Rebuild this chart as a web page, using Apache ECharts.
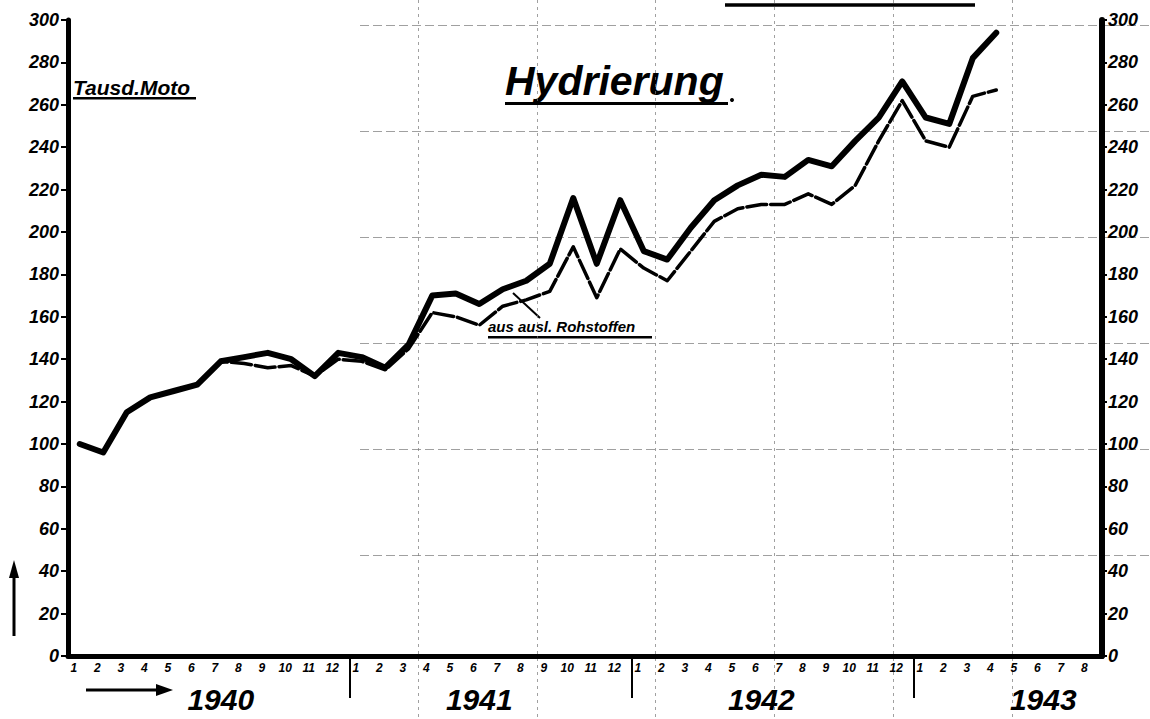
<!DOCTYPE html>
<html>
<head>
<meta charset="utf-8">
<title>Hydrierung</title>
<script src="https://cdn.jsdelivr.net/npm/echarts@6/dist/echarts.min.js"></script>
<style>
  html, body { margin: 0; padding: 0; background: #fff; }
  #chart { width: 1150px; height: 719px; }
</style>
</head>
<body>
<div id="chart"></div>
<script>
// months 1940-1 .. 1943-8
const monthLabels = [
  '1','2','3','4','5','6','7','8','9','10','11','12',
  '1','2','3','4','5','6','7','8','9','10','11','12',
  '1','2','3','4','5','6','7','8','9','10','11','12',
  '1','2','3','4','5','6','7','8'
];
// year caption sits under this month index
const yearLabelAt = { 6: '1940', 17: '1941', 29: '1942', 41: '1943' };
// month boundaries where a new year starts
const yearStarts = [12, 24, 36];
const boundaries = monthLabels.map((m, i) => i).concat([monthLabels.length]);

// Tausd. Moto, total hydrogenation
const gesamt = [
  100, 96, 115, 122, 125, 128, 139, 141, 143, 140, 132, 143,
  141, 136, 147, 170, 171, 166, 173, 177, 185, 216, 185, 215,
  191, 187, 202, 215, 222, 227, 226, 234, 231, 243, 254, 271,
  254, 251, 282, 294, null, null, null, null
];
// aus ausl. Rohstoffen
const auslRohstoffe = [
  100, 96, 115, 122, 125, 128, 139, 138, 136, 137, 132, 140,
  139, 135, 145, 162, 160, 156, 165, 168, 172, 193, 169, 192,
  183, 177, 191, 205, 211, 213, 213, 218, 213, 222, 243, 262,
  243, 240, 264, 267, null, null, null, null
];

const FONT = '"Liberation Sans", Arial, sans-serif';
const ink = '#000';

const chart = echarts.init(document.getElementById('chart'), null, { renderer: 'svg' });

const hidden = {
  axisLine: { show: false },
  axisTick: { show: false },
  axisLabel: { show: false },
  splitLine: { show: false }
};

const option = {
  backgroundColor: '#fff',
  animation: false,
  grid: [
    { left: 68, right: 48, top: 20, bottom: 63 },
    // paper grid, verticals
    { left: 418, right: 138, top: 0, bottom: 0 },
    // paper grid, horizontals
    { left: 360, right: 0, top: 25, bottom: 164 }
  ],
  xAxis: [
    {
      type: 'category',
      gridIndex: 0,
      data: monthLabels,
      boundaryGap: true,
      axisLine: { lineStyle: { color: ink, width: 5 } },
      axisTick: { show: false },
      axisLabel: {
        interval: 0,
        margin: 6,
        color: ink,
        fontFamily: FONT,
        fontWeight: 'bold',
        fontStyle: 'italic',
        fontSize: 12,
        padding: [0, 12, 0, 0]
      },
      splitLine: { show: false }
    },
    {
      type: 'category',
      gridIndex: 0,
      position: 'bottom',
      data: monthLabels,
      boundaryGap: true,
      offset: 22,
      axisLine: { show: false },
      axisTick: { show: false },
      axisLabel: {
        interval: 0,
        margin: 6,
        color: ink,
        fontFamily: FONT,
        fontWeight: 'bold',
        fontStyle: 'italic',
        fontSize: 30,
        formatter: (v, i) => yearLabelAt[i] || ''
      },
      splitLine: { show: false }
    },
    {
      // year separators under the axis
      type: 'category',
      gridIndex: 0,
      position: 'bottom',
      data: boundaries,
      boundaryGap: false,
      axisLine: { show: false },
      axisTick: {
        show: true,
        length: 42,
        interval: (idx) => yearStarts.includes(idx),
        lineStyle: { color: ink, width: 2 }
      },
      axisLabel: { show: false },
      splitLine: { show: false }
    },
    Object.assign({ type: 'value', gridIndex: 1, min: 0, max: 5, interval: 1 }, hidden, {
      splitLine: { show: true, lineStyle: { color: '#777', width: 1, type: [3, 4], opacity: 0.7 } }
    }),
    Object.assign({ type: 'value', gridIndex: 2, min: 0, max: 1 }, hidden)
  ],
  yAxis: [
    {
      type: 'value',
      gridIndex: 0,
      position: 'left',
      min: 0, max: 300, interval: 20,
      axisLine: { show: true, lineStyle: { color: ink, width: 5 } },
      axisTick: { show: true, length: 7, lineStyle: { color: ink, width: 2 } },
      axisLabel: {
        margin: 9,
        color: ink,
        fontFamily: FONT,
        fontWeight: 'bold',
        fontStyle: 'italic',
        fontSize: 18
      },
      splitLine: { show: false }
    },
    {
      type: 'value',
      gridIndex: 0,
      position: 'right',
      min: 0, max: 300, interval: 20,
      axisLine: { show: true, lineStyle: { color: ink, width: 6 } },
      axisTick: { show: true, length: 5, lineStyle: { color: ink, width: 2 } },
      axisLabel: {
        margin: 6,
        color: ink,
        fontFamily: FONT,
        fontWeight: 'bold',
        fontStyle: 'italic',
        fontSize: 18
      },
      splitLine: { show: false }
    },
    Object.assign({ type: 'value', gridIndex: 1, min: 0, max: 1 }, hidden),
    Object.assign({ type: 'value', gridIndex: 2, min: 0, max: 5, interval: 1 }, hidden, {
      splitLine: { show: true, lineStyle: { color: '#777', width: 1, type: [9, 4], opacity: 0.7 } }
    })
  ],
  series: [
    {
      name: 'aus ausl. Rohstoffen',
      type: 'line',
      xAxisIndex: 0,
      yAxisIndex: 0,
      data: auslRohstoffe,
      showSymbol: false,
      symbol: 'none',
      lineStyle: { color: ink, width: 3.5, type: [20, 4], cap: 'round', join: 'round' },
      z: 3
    },
    {
      name: 'Hydrierung gesamt',
      type: 'line',
      xAxisIndex: 0,
      yAxisIndex: 0,
      data: gesamt,
      showSymbol: false,
      symbol: 'none',
      lineStyle: { color: ink, width: 6, cap: 'round', join: 'round' },
      z: 4
    }
  ],
  graphic: [
    // title
    {
      type: 'text', x: 505, y: 81,
      style: { text: 'Hydrierung', fill: ink, font: 'italic bold 41px ' + FONT, textVerticalAlign: 'middle' }
    },
    { type: 'rect', shape: { x: 505, y: 102, width: 223, height: 3 }, style: { fill: ink } },
    { type: 'circle', shape: { cx: 732, cy: 100, r: 2 }, style: { fill: ink } },
    // unit
    {
      type: 'text', x: 73, y: 87,
      style: { text: 'Tausd.Moto', fill: ink, font: 'italic bold 21px ' + FONT, textVerticalAlign: 'middle' }
    },
    { type: 'rect', shape: { x: 73, y: 97, width: 123, height: 2.5 }, style: { fill: ink } },
    // series caption with pointer
    {
      type: 'text', x: 488, y: 326,
      style: { text: 'aus ausl. Rohstoffen', fill: ink, font: 'italic bold 15px ' + FONT, textVerticalAlign: 'middle' }
    },
    { type: 'rect', shape: { x: 488, y: 336, width: 164, height: 2.5 }, style: { fill: ink } },
    { type: 'line', shape: { x1: 513, y1: 293, x2: 540, y2: 318 }, style: { stroke: ink, lineWidth: 2 } },
    // arrow before 1940
    { type: 'line', shape: { x1: 86, y1: 690, x2: 160, y2: 690 }, style: { stroke: ink, lineWidth: 3 } },
    { type: 'polygon', shape: { points: [[156, 684], [173, 690], [156, 696]] }, style: { fill: ink } },
    // up arrow on the left
    { type: 'line', shape: { x1: 14, y1: 636, x2: 14, y2: 574 }, style: { stroke: ink, lineWidth: 3 } },
    { type: 'polygon', shape: { points: [[9, 578], [14, 560], [19, 578]] }, style: { fill: ink } },
    // stroke at the top edge
    { type: 'line', shape: { x1: 725, y1: 5, x2: 975, y2: 5 }, style: { stroke: ink, lineWidth: 3.5 } }
  ]
};

chart.setOption(option);
</script>
</body>
</html>
